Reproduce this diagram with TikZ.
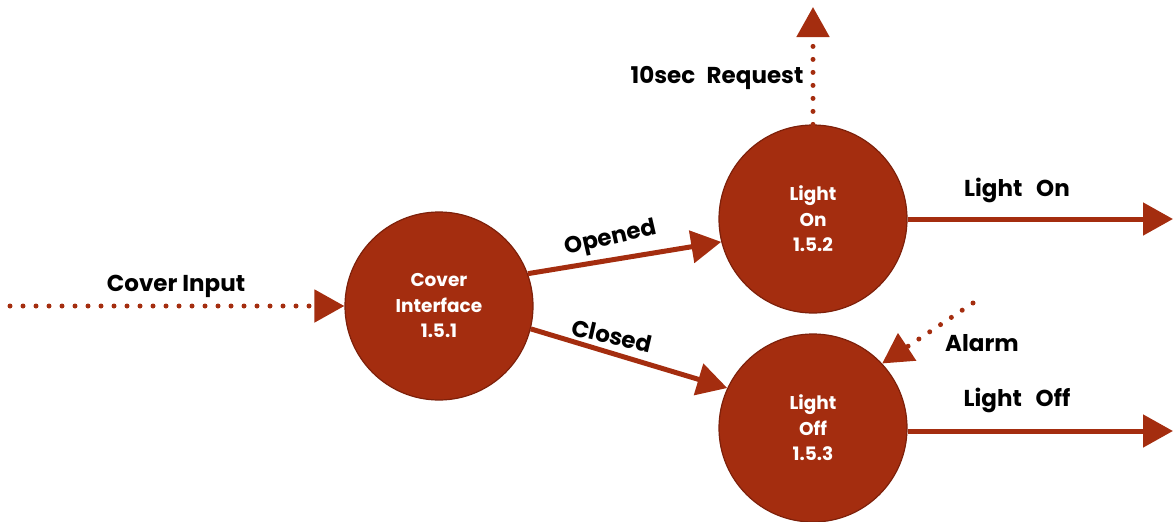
\documentclass[tikz,border=0pt]{standalone}
\usepackage{fontspec}
\setmainfont{Poppins}
\usetikzlibrary{arrows.meta}
\definecolor{rust}{RGB}{164,45,15}
\definecolor{rustdark}{RGB}{125,32,10}
\tikzset{
  proc/.style={circle,fill=rust,draw=rustdark,line width=1.2pt,minimum size=188pt,inner sep=0pt,
    text=white,align=center,font=\fontsize{18.5}{25.5}\selectfont\bfseries},
  flow/.style={draw=rust,line width=5pt,-{Triangle[length=30pt,width=32pt]}},
  dotflow/.style={flow,line cap=round,dash pattern=on 0pt off 13pt},
  lbl/.style={font=\fontsize{23}{26}\selectfont\bfseries,text=black,inner sep=0pt}
}
\begin{document}
\begin{tikzpicture}[x=1pt,y=-1pt]
\useasboundingbox (0,0) rectangle (1173,522);
\node[proc] (ci) at (439,306) {Cover\\Interface\\1.5.1};
\node[proc] (lon) at (813,219) {Light\\On\\1.5.2};
\node[proc] (loff) at (813,428) {Light\\Off\\1.5.3};
\coordinate (cin) at (10,306);
\coordinate (req) at (813,7);
\coordinate (alarm) at (973,303);
\coordinate (onout) at (1173,219);
\coordinate (offout) at (1173,431);
\draw[dotflow] (cin) -- (ci.west);
\draw[flow] (ci.20) -- (lon.194);
\draw[flow] (ci.-14) -- (loff.155);
\draw[flow] (lon.east) -- (onout);
\draw[flow] (loff.east |- offout) -- (offout);
\draw[dotflow] (lon.north) -- (req);
\draw[dotflow] (alarm) -- (loff.43);
\node[lbl] (tci) at (176,286) {Cover Input};
\node[lbl,rotate=13] (top) at (611,239) {Opened};
\node[lbl,rotate=-13] (tcl) at (612,336) {Closed};
\node[lbl] (tlon) at (1017,190) {Light\hspace{0.6em}On};
\node[lbl] (tloff) at (1017,400) {Light\hspace{0.6em}Off};
\node[lbl] (treq) at (717,78) {10sec\hspace{0.5em}Request};
\node[lbl] (tal) at (982,343) {Alarm};
\end{tikzpicture}
\end{document}
